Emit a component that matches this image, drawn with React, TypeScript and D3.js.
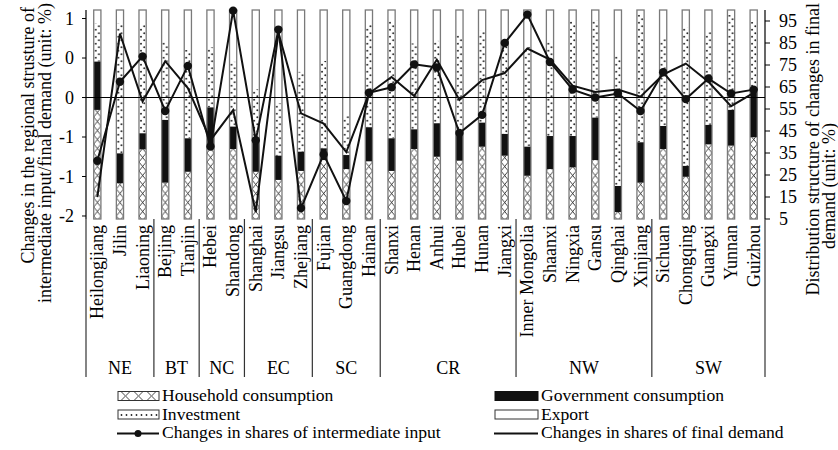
import React from 'react';
import * as d3 from 'd3';

const provinces = ["Heilongjiang","Jilin","Liaoning","Beijing","Tianjin","Hebei","Shandong","Shanghai","Jiangsu","Zhejiang","Fujian","Guangdong","Hainan","Shanxi","Henan","Anhui","Hubei","Hunan","Jiangxi","Inner Mongolia","Shaanxi","Ningxia","Gansu","Qinghai","Xinjiang","Sichuan","Chongqing","Guangxi","Yunnan","Guizhou"];
const regions = ["NE","BT","NC","EC","SC","CR","NW","SW"];
const regionSizes = [3,2,2,3,3,6,6,5];

const household = [52.2,17.1,33.3,17.4,22.6,33.8,33.5,22.6,18.7,23.0,28.2,23.9,27.6,23.0,33.5,29.8,27.9,34.6,30.3,20.7,23.9,24.7,28.2,3.3,17.4,33.5,20.2,35.7,35.1,39.1];
const government = [23.1,14.3,7.7,30.0,16.0,19.6,10.7,15.2,11.6,9.2,5.6,6.7,16.3,15.6,9.4,16.0,13.1,11.5,10.4,13.9,15.8,15.0,20.3,12.5,19.3,11.0,5.2,9.3,17.1,22.6];
const investment = [18.3,62.2,51.8,37.4,42.3,28.8,31.1,24.3,25.1,38.3,41.9,19.2,49.4,56.1,41.2,39.5,47.0,44.0,41.7,47.8,45.1,55.0,46.7,62.2,61.2,41.6,66.3,45.0,45.4,32.7];
const exportShare = [6.4,6.4,7.2,15.2,19.1,17.8,24.7,37.9,44.6,29.5,24.3,50.2,6.7,5.3,15.9,14.7,12.0,9.9,17.6,17.6,15.2,5.3,4.8,22.0,2.1,13.9,8.3,10.0,2.4,5.6];

const intermediate = [-0.80,0.20,0.52,-0.17,0.40,-0.62,1.10,-0.54,0.86,-1.40,-0.72,-1.31,0.06,0.13,0.42,0.38,-0.45,-0.22,0.69,1.05,0.45,0.10,0.00,0.05,-0.17,0.32,-0.02,0.24,0.05,0.10];
const finalDemand = [-1.26,0.81,-0.05,0.46,0.12,-0.54,-0.16,-1.45,0.82,-0.20,-0.33,-0.69,0.05,0.26,0.02,0.48,-0.03,0.22,0.31,0.62,0.48,0.15,0.07,0.10,0.01,0.29,0.43,0.20,-0.11,0.06];

const leftTicks = [1, 0.5, 0, -0.5, -1, -1.5];
const leftTickLabels = ["1","0","0","-1","-1","-2"];
const rightTicks = [5,15,25,35,45,55,65,75,85,95];

const FONT = "'Liberation Serif', 'Times New Roman', serif";

export default function App() {
  const left = 86, right = 765, top = 10, bottom = 219;
  const x = d3.scaleBand<string>().domain(provinces).range([left, right]).padding(0);
  const bw = x.bandwidth();
  const barW = 7.2;
  const yShare = d3.scaleLinear().domain([0, 100]).range([bottom, top]);
  const yRight = d3.scaleLinear().domain([5, 100]).range([bottom, top]);
  const yL = d3.scaleLinear().domain([-1.538, 1.108]).range([bottom, top]);

  const keys = ["household","government","investment","export"];
  const table = provinces.map((p, i) => ({ p, household: household[i], government: government[i], investment: investment[i], export: exportShare[i] }));
  const stacked = d3.stack<any>().keys(keys)(table);
  const fills: Record<string,string> = { household: "url(#hh)", government: "#111", investment: "url(#inv)", export: "#fff" };

  const cx = (p: string) => (x(p) as number) + bw / 2;
  const lineGen = d3.line<number>().x((_, i) => cx(provinces[i])).y(d => yL(d));

  const patX = left + (bw - barW) / 2;

  const bounds: number[] = [0];
  regionSizes.forEach(s => bounds.push(bounds[bounds.length - 1] + s));
  const bx = (k: number) => left + k * bw;

  const r1 = 396, r2 = 414.5, r3 = 433;
  const LF = 16;
  const legText = (tx: number, ty: number, s: string) => (
    <text transform={`translate(${tx},${ty}) scale(1.1,1)`} dominantBaseline="central" fontSize={LF}>{s}</text>
  );

  return (
    <svg width={838} height={450} style={{ position: 'absolute', left: 0, top: 0, background: '#fff' }} fontFamily={FONT}>
      <defs>
        <pattern id="hh" patternUnits="userSpaceOnUse" x={patX} y={0} width={bw} height={9}>
          <path d={`M0,0 L${barW},9 M${barW},0 L0,9`} stroke="#333" strokeWidth={0.9} fill="none" />
        </pattern>
        <pattern id="inv" patternUnits="userSpaceOnUse" x={patX} y={0} width={bw} height={7}>
          <circle cx={2} cy={1.8} r={0.95} fill="#222" />
          <circle cx={5.2} cy={5.3} r={0.95} fill="#222" />
        </pattern>
        <pattern id="hhL" patternUnits="userSpaceOnUse" x={119} y={r1 - 4.5} width={13} height={9}>
          <path d="M2,0 L11,9 M11,0 L2,9" stroke="#333" strokeWidth={0.9} fill="none" />
        </pattern>
        <pattern id="invL" patternUnits="userSpaceOnUse" x={119} y={r2 - 4.5} width={5} height={9}>
          <circle cx={2.5} cy={5} r={0.9} fill="#222" />
        </pattern>
      </defs>

      {/* bars */}
      {stacked.map(layer => (
        <g key={layer.key}>
          {layer.map((d, i) => (
            <rect key={i} x={cx(provinces[i]) - barW / 2} width={barW}
              y={yShare(d[1])} height={yShare(d[0]) - yShare(d[1])}
              fill={fills[layer.key]} />
          ))}
        </g>
      ))}
      {provinces.map(p => (
        <rect key={p} x={cx(p) - barW / 2} width={barW} y={yShare(100)} height={yShare(0) - yShare(100)}
          fill="none" stroke="#7a7a7a" strokeWidth={1.3} />
      ))}

      {/* zero line */}
      <line x1={left} x2={right} y1={yL(0)} y2={yL(0)} stroke="#000" strokeWidth={1.2} />

      {/* lines */}
      <path d={lineGen(finalDemand) as string} fill="none" stroke="#111" strokeWidth={2} />
      <path d={lineGen(intermediate) as string} fill="none" stroke="#111" strokeWidth={2} />
      {intermediate.map((v, i) => (
        <circle key={i} cx={cx(provinces[i])} cy={yL(v)} r={4.2} fill="#111" />
      ))}

      {/* left axis */}
      <line x1={left} x2={left} y1={top} y2={bottom} stroke="#000" strokeWidth={1.2} />
      {leftTicks.map((t, i) => (
        <g key={i}>
          <line x1={left - 4} x2={left} y1={yL(t)} y2={yL(t)} stroke="#000" strokeWidth={1} />
          <text x={74} y={yL(t)} textAnchor="end" dominantBaseline="central" fontSize={18}>{leftTickLabels[i]}</text>
        </g>
      ))}
      {/* right axis */}
      <line x1={right} x2={right} y1={top} y2={bottom} stroke="#000" strokeWidth={1.2} />
      {rightTicks.map(t => (
        <g key={t}>
          <line x1={right} x2={right + 5} y1={yRight(t)} y2={yRight(t)} stroke="#000" strokeWidth={1} />
          <text x={779} y={yRight(t)} dominantBaseline="central" fontSize={18}>{t}</text>
        </g>
      ))}

      {/* axis titles */}
      <text transform="translate(34,7) rotate(-90)" textAnchor="end" fontSize={18}>Changes in the regional strusture of</text>
      <text transform="translate(51,3) rotate(-90)" textAnchor="end" fontSize={18}>intermediate input/final demand (unit: %)</text>
      <text transform="translate(819,3) rotate(-90)" textAnchor="end" fontSize={18}>Distribution structure of changes in final</text>
      <text transform="translate(835,123) rotate(-90)" textAnchor="end" fontSize={18}>demand  (unit: %)</text>

      {/* category labels */}
      {provinces.map(p => (
        <text key={p} transform={`translate(${cx(p)},225) rotate(-90)`} textAnchor="end" dominantBaseline="central" fontSize={18}>{p}</text>
      ))}
      {/* separators */}
      {bounds.map((b, i) => (
        <line key={i} x1={bx(b)} x2={bx(b)} y1={bottom} y2={377} stroke="#333" strokeWidth={1.2} />
      ))}
      {regions.map((r, i) => (
        <text key={r} x={(bx(bounds[i]) + bx(bounds[i + 1])) / 2} y={368} textAnchor="middle" dominantBaseline="central" fontSize={18}>{r}</text>
      ))}

      {/* legend */}
      <rect x={118} y={r1 - 4.5} width={41} height={9} fill="url(#hhL)" stroke="#333" strokeWidth={1} />
      {legText(162, r1, "Household consumption")}
      <rect x={118} y={r2 - 4.5} width={41} height={9} fill="url(#invL)" stroke="#333" strokeWidth={1} />
      {legText(162, r2, "Investment")}
      <line x1={117} x2={159} y1={r3 + 0.5} y2={r3 + 0.5} stroke="#111" strokeWidth={2} />
      <circle cx={138} cy={r3 + 0.5} r={3.5} fill="#111" />
      {legText(162, r3, "Changes in shares of intermediate input")}

      <rect x={495} y={r1 - 4.5} width={43} height={9} fill="#111" stroke="#111" strokeWidth={1} />
      {legText(541, r1, "Government consumption")}
      <rect x={495} y={r2 - 4.5} width={43} height={9} fill="#fff" stroke="#333" strokeWidth={1} />
      {legText(541, r2, "Export")}
      <line x1={494} x2={538} y1={r3 + 0.5} y2={r3 + 0.5} stroke="#111" strokeWidth={2} />
      {legText(541, r3, "Changes in shares of final demand")}
    </svg>
  );
}
